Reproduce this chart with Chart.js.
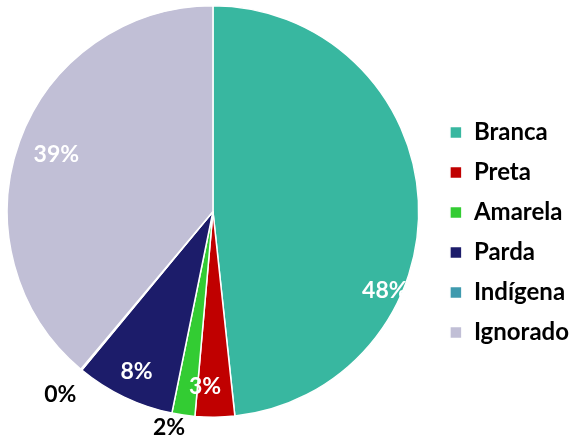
<!DOCTYPE html>
<html>
<head>
<meta charset="utf-8">
<script src="https://cdn.jsdelivr.net/npm/chart.js@4"></script>
<style>
  html, body { margin: 0; padding: 0; background: #fff; }
  #wrap { width: 579px; height: 441px; }
</style>
</head>
<body>
<div id="wrap"><canvas id="pieChart"></canvas></div>
<script>
const categories = ['Branca', 'Preta', 'Amarela', 'Parda', 'Indígena', 'Ignorado'];
const shares = [48.3, 3.1, 1.8, 7.8, 0.1, 38.9];
const pctLabels = ['48%', '3%', '2%', '8%', '0%', '39%'];
const colors = ['#38B7A0', '#C00000', '#33CC33', '#1C1C6A', '#3F9AAE', '#C1BFD6'];

// where each label sits: [fraction along the slice angle, fraction of radius], and its colour
const labelPlace = [[0.66, 0.92], [0.78, 0.85], [1.0, 1.07], [0.5, 0.86], [0.5, 1.16], [0.5, 0.81]];
const labelColor = ['#fff', '#fff', '#000', '#fff', '#000', '#fff'];

const sliceLabels = {
    id: 'sliceLabels',
    afterLayout(chart) {
        // pie sits a little further left than the legend leaves room for
        chart.chartArea.left -= 8;
        chart.chartArea.width += 8;
    },
    afterDatasetsDraw(chart) {
        const ctx = chart.ctx;
        const arcs = chart.getDatasetMeta(0).data;
        ctx.save();
        ctx.font = 'bold 23px Lato';
        ctx.textAlign = 'center';
        ctx.textBaseline = 'middle';
        arcs.forEach((arc, i) => {
            const p = arc.getProps(['x', 'y', 'startAngle', 'endAngle', 'outerRadius'], true);
            const a = p.startAngle + (p.endAngle - p.startAngle) * labelPlace[i][0];
            const r = p.outerRadius * labelPlace[i][1];
            ctx.fillStyle = labelColor[i];
            ctx.fillText(pctLabels[i], p.x + Math.cos(a) * r, p.y + Math.sin(a) * r);
        });
        ctx.restore();
    }
};

new Chart(document.getElementById('pieChart').getContext('2d'), {
    type: 'pie',
    data: {
        labels: categories,
        datasets: [{
            data: shares,
            backgroundColor: colors,
            borderColor: '#fff',
            borderWidth: 1.5
        }]
    },
    options: {
        responsive: true,
        maintainAspectRatio: false,
        animation: false,
        layout: { padding: { top: 5, bottom: 23, left: 0, right: 0 } },
        plugins: {
            tooltip: { enabled: false },
            legend: {
                position: 'right',
                title: { display: true, text: ' ', font: { size: 10 }, padding: { top: 30, bottom: 0 } },
                labels: {
                    boxWidth: 12,
                    boxHeight: 12,
                    padding: 16,
                    color: '#000',
                    font: { family: 'Lato', size: 24, weight: 'bold' }
                }
            }
        }
    },
    plugins: [sliceLabels]
});
</script>
</body>
</html>
